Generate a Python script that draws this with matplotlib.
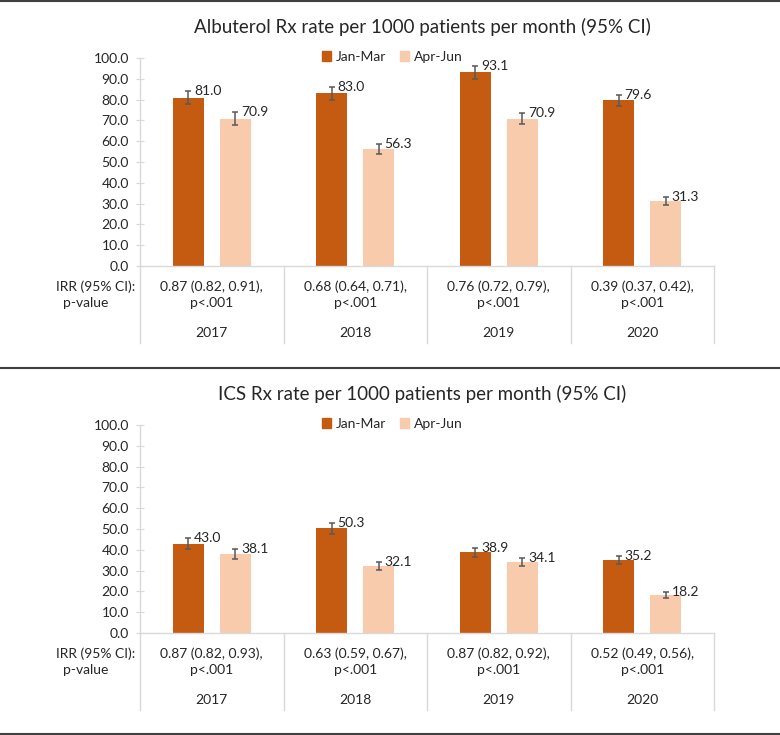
import matplotlib.pyplot as plt
import matplotlib.lines as lines
from matplotlib.patches import Patch

# Data
years = ["2017", "2018", "2019", "2020"]
series = ["Jan-Mar", "Apr-Jun"]

alb_jan = [81.0, 83.0, 93.1, 79.6]
alb_apr = [70.9, 56.3, 70.9, 31.3]
alb_jan_err = [3.0, 3.0, 3.0, 2.8]
alb_apr_err = [3.0, 2.5, 2.5, 1.8]
alb_irr = ["0.87 (0.82, 0.91),", "0.68 (0.64, 0.71),", "0.76 (0.72, 0.79),", "0.39 (0.37, 0.42),"]

ics_jan = [43.0, 50.3, 38.9, 35.2]
ics_apr = [38.1, 32.1, 34.1, 18.2]
ics_jan_err = [2.5, 2.5, 2.2, 2.0]
ics_apr_err = [2.3, 2.0, 2.0, 1.3]
ics_irr = ["0.87 (0.82, 0.93),", "0.63 (0.59, 0.67),", "0.87 (0.82, 0.92),", "0.52 (0.49, 0.56),"]

pvals = ["p<.001", "p<.001", "p<.001", "p<.001"]

W, H = 780, 735
C_JAN = "#c55a11"
C_APR = "#f8cbad"
C_GRID = "#d9d9d9"
C_ERR = "#595959"
C_TEXT = "#262626"

plt.rcParams["font.family"] = ["Lato", "DejaVu Sans"]

fig = plt.figure(figsize=(W / 100, H / 100), dpi=100)


def fy(px):
    """Pixel od horního okraje -> souřadnice figury."""
    return 1 - px / H


def panel(off, title, jan, apr, jan_err, apr_err, irr):
    ax_top, ax_bot = 58 + off, 266 + off
    ax = fig.add_axes([140 / W, fy(ax_bot), (714 - 140) / W, (ax_bot - ax_top) / H])
    hpx = ax_bot - ax_top
    x = range(len(years))
    bw, dx = 0.215, 0.163
    xj = [i - dx for i in x]
    xa = [i + dx for i in x]
    ax.bar(xj, jan, bw, color=C_JAN, label=series[0], zorder=2)
    ax.bar(xa, apr, bw, color=C_APR, label=series[1], zorder=2)
    ek = dict(fmt="none", ecolor=C_ERR, elinewidth=1.1, capsize=2.5, capthick=1.1, zorder=3)
    ax.errorbar(xj, jan, yerr=jan_err, **ek)
    ax.errorbar(xa, apr, yerr=apr_err, **ek)
    for xs, vals, errs in ((xj, jan, jan_err), (xa, apr, apr_err)):
        for xi, v, e in zip(xs, vals, errs):
            ax.text(xi + 0.04, v + e, f"{v:.1f}", ha="left", va="center",
                    fontsize=10, color=C_TEXT, zorder=4)

    ax.set_xlim(-0.5, len(years) - 0.5)
    ax.set_ylim(0, 100)
    ax.set_yticks(range(0, 101, 10))
    ax.set_yticklabels([f"{t:.1f}" for t in range(0, 101, 10)])
    ax.set_xticks([])
    ax.tick_params(axis="y", direction="inout", length=6, color=C_GRID, labelsize=10,
                   labelcolor=C_TEXT, pad=5)
    for s in ("top", "right"):
        ax.spines[s].set_visible(False)
    for s in ("left", "bottom"):
        ax.spines[s].set_color(C_GRID)
        ax.spines[s].set_linewidth(1)

    # tabulka pod osou
    tr = ax.get_xaxis_transform()
    y_irr = -(287 + off - ax_bot) / hpx
    y_p = -(303 + off - ax_bot) / hpx
    y_yr = -(333 + off - ax_bot) / hpx
    y_end = -(343 + off - ax_bot) / hpx
    for b in [i - 0.5 for i in range(len(years) + 1)]:
        ax.add_line(lines.Line2D([b, b], [0, y_end], transform=tr, color=C_GRID,
                                 lw=1, clip_on=False))
    for i in x:
        ax.text(i, y_irr, irr[i], transform=tr, ha="center", va="center", fontsize=10, color=C_TEXT)
        ax.text(i, y_p, pvals[i], transform=tr, ha="center", va="center", fontsize=10, color=C_TEXT)
        ax.text(i, y_yr, years[i], transform=tr, ha="center", va="center", fontsize=10, color=C_TEXT)
    fig.text(135 / W, fy(287 + off), "IRR (95% CI):", ha="right", va="center", fontsize=10, color=C_TEXT)
    fig.text(63 / W, fy(303 + off), "p-value", ha="left", va="center", fontsize=10, color=C_TEXT)

    fig.text(422 / W, fy(27 + off), title, ha="center", va="center", fontsize=13.5, color=C_TEXT)
    handles = [Patch(color=C_JAN, label=series[0]), Patch(color=C_APR, label=series[1])]
    ax.legend(handles=handles, loc="center", bbox_to_anchor=(392 / W, fy(57 + off)),
              bbox_transform=fig.transFigure, ncol=2, frameon=False, fontsize=10,
              handlelength=0.7, handleheight=0.7, handletextpad=0.3, columnspacing=1.0,
              labelcolor=C_TEXT)


panel(0, "Albuterol Rx rate per 1000 patients per month (95% CI)",
      alb_jan, alb_apr, alb_jan_err, alb_apr_err, alb_irr)
panel(367, "ICS Rx rate per 1000 patients per month (95% CI)",
      ics_jan, ics_apr, ics_jan_err, ics_apr_err, ics_irr)

# oddělovací čáry
for py in (1, 368, 734):
    fig.add_artist(lines.Line2D([0, 1], [fy(py), fy(py)], color="#404040", lw=1.5))

fig.savefig("out.png", dpi=100)
